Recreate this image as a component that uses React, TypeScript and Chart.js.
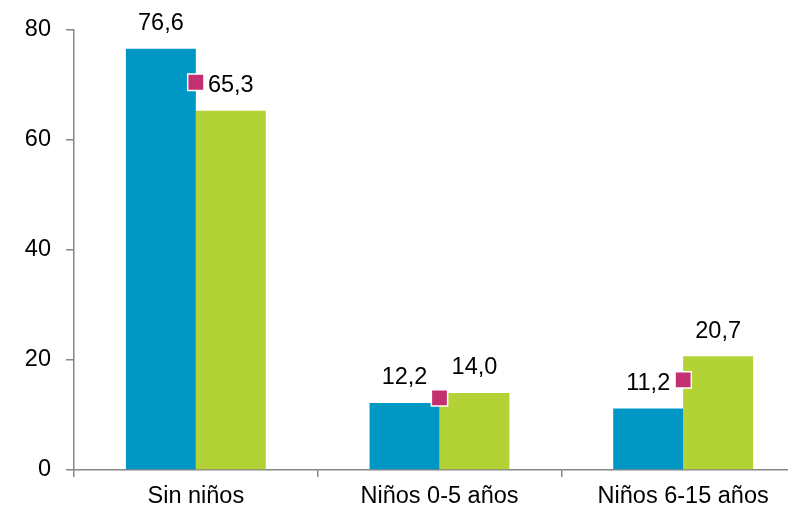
import React, { useEffect, useRef } from "react";
import { Chart, registerables } from "chart.js";

Chart.register(...registerables);

const categories = ["Sin niños", "Niños 0-5 años", "Niños 6-15 años"];
const seriesBlue = [76.6, 12.2, 11.2];
const seriesGreen = [65.3, 14.0, 20.7];
const seriesMarker = [70.5, 13.1, 16.4];
const yTicks = [0, 20, 40, 60, 80];

const FONT = "'Liberation Sans', Arial, sans-serif";

const labelPlugin = {
  id: "barLabels",
  afterDatasetsDraw(chart: any) {
    const ctx = chart.ctx;
    ctx.save();
    ctx.font = `23.5px ${FONT}`;
    ctx.fillStyle = "#000";
    ctx.textAlign = "center";
    ctx.textBaseline = "middle";
    [0, 1].forEach((di) => {
      const meta = chart.getDatasetMeta(di);
      const data = chart.data.datasets[di].data as number[];
      meta.data.forEach((el: any, i: number) => {
        const txt = data[i].toFixed(1).replace(".", ",");
        ctx.fillText(txt, el.x, el.y - 25);
      });
    });
    ctx.restore();
  },
};

export default function App() {
  const ref = useRef<HTMLCanvasElement>(null);
  useEffect(() => {
    if (!ref.current) return;
    const chart = new Chart(ref.current, {
      type: "bar",
      data: {
        labels: categories,
        datasets: [
          {
            type: "bar",
            data: seriesBlue,
            backgroundColor: "#0097C4",
            categoryPercentage: 0.574,
            barPercentage: 1,
            order: 2,
          },
          {
            type: "bar",
            data: seriesGreen,
            backgroundColor: "#B2D235",
            categoryPercentage: 0.574,
            barPercentage: 1,
            order: 2,
          },
          {
            type: "line",
            data: seriesMarker,
            showLine: false,
            pointStyle: "rect",
            pointRadius: 11.5,
            pointBackgroundColor: "#C3306F",
            pointBorderColor: "#FFFFFF",
            pointBorderWidth: 1.5,
            order: 1,
          } as any,
        ],
      },
      options: {
        animation: false,
        responsive: true,
        maintainAspectRatio: false,
        layout: { padding: { top: 30, left: 0, right: 0, bottom: 0 } },
        plugins: { legend: { display: false }, tooltip: { enabled: false } },
        scales: {
          x: {
            offset: true,
            grid: {
              offset: true,
              drawOnChartArea: false,
              drawTicks: true,
              tickLength: 7,
              color: "#868686",
              lineWidth: 1.5,
            },
            border: { color: "#868686", width: 1.5 },
            ticks: {
              color: "#000",
              font: { family: FONT, size: 23.5 },
              padding: 5,
              maxRotation: 0,
            },
            afterFit(axis: any) {
              axis.height = 40;
            },
          },
          y: {
            min: 0,
            max: 80,
            afterBuildTicks(axis: any) {
              axis.ticks = yTicks.map((v) => ({ value: v }));
            },
            grid: {
              drawOnChartArea: false,
              drawTicks: true,
              tickLength: 8,
              color: "#868686",
              lineWidth: 1.5,
            },
            border: { color: "#868686", width: 1.5 },
            ticks: {
              color: "#000",
              font: { family: FONT, size: 23.5 },
              padding: 15,
            },
            afterFit(axis: any) {
              axis.width = 74;
            },
          },
        },
      },
      plugins: [labelPlugin],
    });
    return () => chart.destroy();
  }, []);
  return (
    <div
      style={{
        position: "fixed",
        left: 0,
        top: 0,
        width: 788,
        height: 510,
        overflow: "hidden",
        background: "#fff",
      }}
    >
      <div style={{ position: "absolute", left: 0, top: 0, width: 818, height: 510 }}>
        <canvas ref={ref} />
      </div>
    </div>
  );
}
